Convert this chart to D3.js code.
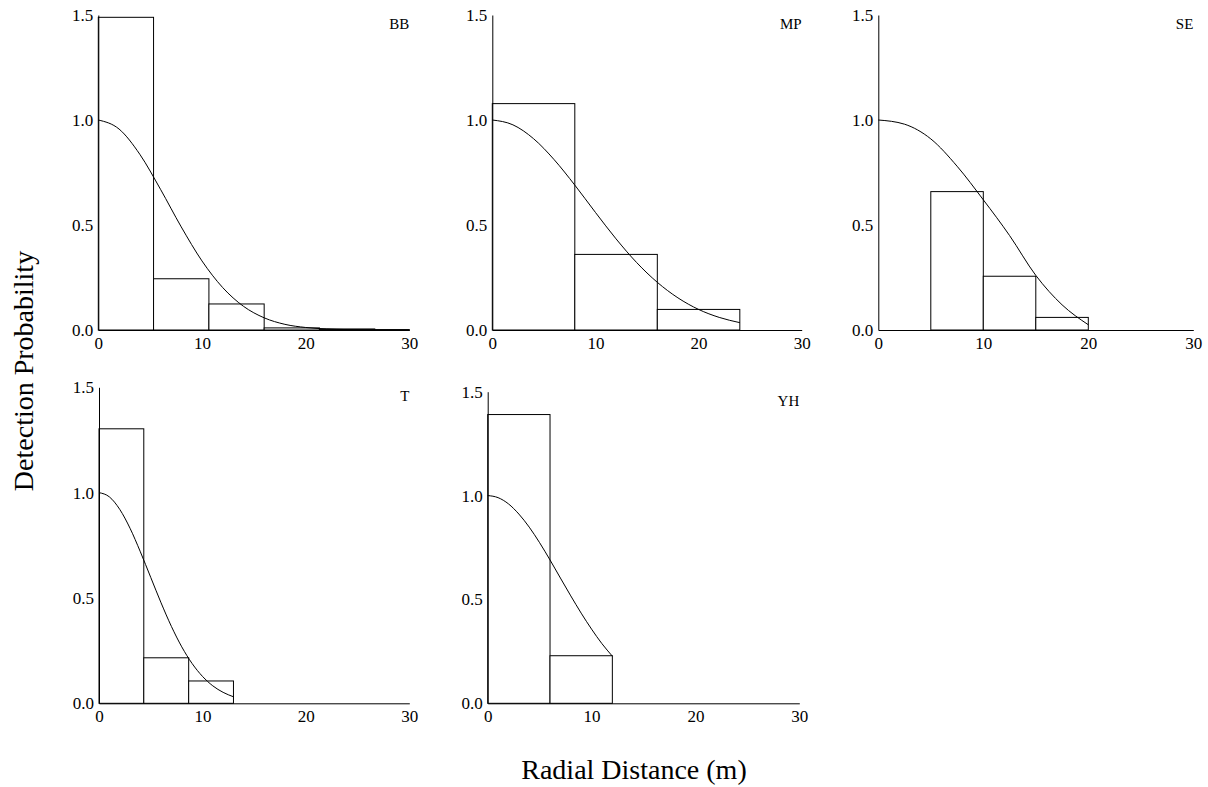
<!DOCTYPE html>
<html>
<head>
<meta charset="utf-8">
<script src="https://cdn.jsdelivr.net/npm/d3@7"></script>
<style>
  body { margin: 0; background: #fff; }
  text { font-family: "Liberation Serif", "Times New Roman", serif; fill: #000; }
</style>
</head>
<body>
<svg width="1208" height="787"></svg>
<script>
// species codes, one panel each
const species = ['BB', 'MP', 'SE', 'T', 'YH'];

// histogram bin edges (m) and bar heights
const binEdges = {
    BB: [0, 5.33, 10.67, 16, 21.33, 26.67, 30],
    MP: [0, 8, 16, 24],
    SE: [5, 10, 15, 20],
    T: [0, 4.33, 8.67, 13],
    YH: [0, 6, 12]
};
const binHeights = {
    BB: [1.489, 0.244, 0.124, 0.010, 0.005, 0.002],
    MP: [1.078, 0.360, 0.098],
    SE: [0.659, 0.256, 0.060],
    T: [1.303, 0.216, 0.106],
    YH: [1.390, 0.229]
};

// fitted detection function
const curveX = {
    BB: [0, 2, 4, 6, 8, 10, 12, 14, 16, 18, 20, 22, 24, 26, 28, 30],
    MP: [0, 2, 4, 6, 8, 10, 12, 14, 16, 18, 20, 22, 24],
    SE: [0, 2.5, 5, 7.5, 10, 12.5, 15, 17.5, 20],
    T: [0, 1, 2, 3, 4, 5, 6, 7, 8, 9, 10, 11, 12, 13],
    YH: [0, 1, 2, 3, 4, 5, 6, 7, 8, 9, 10, 11, 12]
};
const curveY = {
    BB: [1, 0.957, 0.837, 0.670, 0.491, 0.329, 0.202, 0.113, 0.058, 0.027, 0.012, 0.005, 0.002, 0.0005, 0.0002, 0],
    MP: [1, 0.977, 0.911, 0.811, 0.690, 0.560, 0.434, 0.321, 0.227, 0.153, 0.098, 0.060, 0.035],
    SE: [1, 0.98, 0.91, 0.78, 0.62, 0.45, 0.26, 0.12, 0.025],
    T: [1, 0.980, 0.921, 0.831, 0.719, 0.598, 0.477, 0.365, 0.268, 0.189, 0.128, 0.083, 0.052, 0.031],
    YH: [1, 0.990, 0.960, 0.911, 0.848, 0.773, 0.690, 0.603, 0.517, 0.434, 0.357, 0.287, 0.227]
};

const xTicks = [0, 10, 20, 30];
const yTicks = [0, 0.5, 1.0, 1.5];

// where each panel sits on the page
const layout = {
    BB: { left: 98.3, top: 15, w: 311, h: 315 },
    MP: { left: 492.3, top: 15, w: 309.4, h: 315 },
    SE: { left: 878.3, top: 15, w: 315, h: 315 },
    T: { left: 99, top: 387.3, w: 310.3, h: 316 },
    YH: { left: 487.7, top: 391.7, w: 311.6, h: 311.6 }
};

const serif = '"Liberation Serif", "Times New Roman", serif';
const svg = d3.select('svg');

species.forEach(sp => drawPanel(sp));

function drawPanel(sp) {
    const L = layout[sp];
    const g = svg.append('g').attr('transform', `translate(${L.left}, ${L.top})`);

    const xScale = d3.scaleLinear().domain([0, 30]).range([0, L.w]);
    const yScale = d3.scaleLinear().domain([0, 1.5]).range([L.h, 0]);

    // histogram bars
    const edges = binEdges[sp];
    const bars = binHeights[sp].map((v, i) => ({ x0: edges[i], x1: edges[i + 1], v }));
    g.selectAll('rect').data(bars)
        .enter().append('rect')
        .attr('x', d => xScale(d.x0))
        .attr('y', d => yScale(d.v))
        .attr('width', d => xScale(d.x1) - xScale(d.x0))
        .attr('height', d => yScale(0) - yScale(d.v))
        .attr('fill', '#fff')
        .attr('stroke', '#000')
        .attr('stroke-width', 1);

    // detection function curve
    const pts = curveX[sp].map((x, i) => [x, curveY[sp][i]]);
    const line = d3.line()
        .x(d => xScale(d[0]))
        .y(d => yScale(d[1]))
        .curve(d3.curveMonotoneX);
    g.append('path')
        .attr('d', line(pts))
        .attr('fill', 'none')
        .attr('stroke', '#000')
        .attr('stroke-width', 1);

    // axes - no visible tick marks, just the lines and labels
    const xAxisG = g.append('g')
        .attr('transform', `translate(0, ${L.h})`)
        .call(d3.axisBottom(xScale).tickValues(xTicks).tickSize(0).tickPadding(7));
    const yAxisG = g.append('g')
        .call(d3.axisLeft(yScale).tickValues(yTicks).tickFormat(d3.format('.1f')).tickSize(0).tickPadding(5));
    [xAxisG, yAxisG].forEach(a => {
        a.attr('font-family', serif).attr('font-size', 17);
        a.select('.domain').attr('stroke', '#000');
        a.selectAll('.tick line').remove();
        a.selectAll('.tick text').attr('fill', '#000');
    });

    // species label
    g.append('text')
        .attr('x', xScale(30))
        .attr('y', 14)
        .attr('text-anchor', 'end')
        .attr('font-size', '15px')
        .text(sp);
}

// shared axis titles
svg.append('text')
    .attr('transform', 'translate(33, 371) rotate(-90)')
    .attr('text-anchor', 'middle')
    .attr('font-size', '28px')
    .text('Detection Probability');

svg.append('text')
    .attr('x', 634)
    .attr('y', 779)
    .attr('text-anchor', 'middle')
    .attr('font-size', '28px')
    .text('Radial Distance (m)');
</script>
</body>
</html>
